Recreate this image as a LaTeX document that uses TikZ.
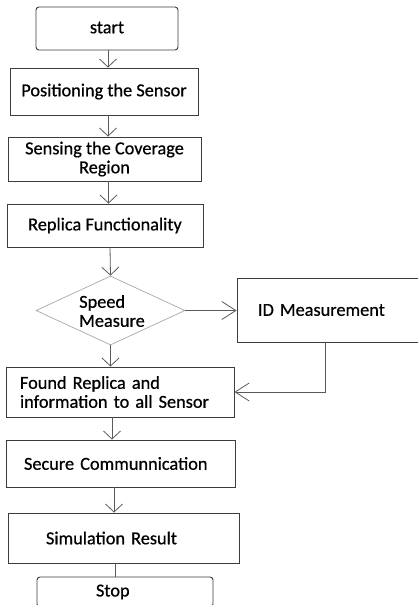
\documentclass[tikz,border=0pt]{standalone}
\usepackage{fontspec}
\setmainfont{Carlito}[FakeBold=0.6]
\usetikzlibrary{arrows.meta,shapes.geometric}
\definecolor{boxline}{HTML}{3C3C3C}
\definecolor{arrline}{HTML}{5A5A5A}
\definecolor{diaLine}{HTML}{A8A8A8}
\tikzset{
  box/.style={draw=boxline, line width=0.9pt, rectangle, inner sep=0pt,
    font=\fontsize{18.3}{19}\selectfont, text=black},
  rbox/.style={box, rounded corners=3pt},
  arr/.style={draw=arrline, line width=0.8pt, -{Straight Barb[length=8pt,width=17pt,line width=0.8pt]}},
  harr/.style={draw=arrline, line width=0.8pt, -{Straight Barb[length=14pt,width=18pt,line width=0.8pt]}},
  plain/.style={draw=arrline, line width=0.8pt},
}
\begin{document}
\begin{tikzpicture}[x=1pt,y=-1pt]
\useasboundingbox (0,0) rectangle (418,605);
\clip (0,0) rectangle (418,605);
\fill[white] (0,0) rectangle (418,605);

\node[rbox, minimum width=142pt, minimum height=43pt, text width=60pt, inner xsep=41pt, align=center] (start) at (107,28.5) {\raisebox{2pt}{start}};
\node[box, minimum width=188pt, minimum height=47pt] (pos) at (104,91.5) {Positioning the Sensor};
\node[box, minimum width=193pt, minimum height=44pt, align=center] (sense) at (104.5,159) {Sensing the Coverage\\Region};
\node[box, minimum width=196pt, minimum height=43pt] (repl) at (105,225.5) {Replica Functionality};
\node[diamond, draw=diaLine, line width=0.7pt, minimum width=149pt, minimum height=69pt, inner sep=0pt] (dec) at (110.5,310.5) {};
\node[fill=white, inner sep=1.5pt, align=left, font=\fontsize{18.3}{19}\selectfont] (dectext) at (112,311) {Speed\\Measure};
\node[box, minimum width=183pt, minimum height=64pt, text width=141pt, inner xsep=21pt, align=left] (id) at (328.5,310) {ID Measurement};
\node[box, minimum width=228pt, minimum height=50pt, text width=200pt, inner xsep=14pt, align=left] (found) at (120,392) {Found Replica and\\information to all Sensor};
\node[box, minimum width=229pt, minimum height=47pt, text width=193pt, inner xsep=18pt, align=left] (sec) at (120.5,463.5) {Secure Communnication};
\node[box, minimum width=231pt, minimum height=50pt, text width=155pt, inner xsep=38pt, align=left] (sim) at (123.5,538) {Simulation Result};
\node[rbox, minimum width=176pt, minimum height=30pt, text width=58pt, inner xsep=59pt, align=left] (stop) at (125,592) {Stop};

\draw[arr] ([xshift=1pt]start.south) -- ([xshift=1pt]start.south |- pos.north);
\draw[arr] ([xshift=4pt]pos.south) -- ([xshift=4pt]pos.south |- sense.north);
\draw[arr] ([xshift=4pt]sense.south) -- ([xshift=4pt]sense.south |- repl.north);
\draw[arr] ([xshift=5pt]repl.south) -- (dec.north);
\draw[arr] (dec.south) -- (dec.south |- found.north);
\draw[arr] ([xshift=-8pt]found.south) -- ([xshift=-8pt]found.south |- sec.north);
\draw[arr] ([xshift=-6.5pt]sec.south) -- ([xshift=-6.5pt]sec.south |- sim.north);
\draw[plain] ([xshift=-8.5pt]sim.south) -- ([xshift=-8.5pt]sim.south |- stop.north);
\draw[harr] (dec.east) -- (id.west |- dec.east);
\draw[harr] ([xshift=-3.5pt]id.south) |- (found.east);
\end{tikzpicture}
\end{document}
